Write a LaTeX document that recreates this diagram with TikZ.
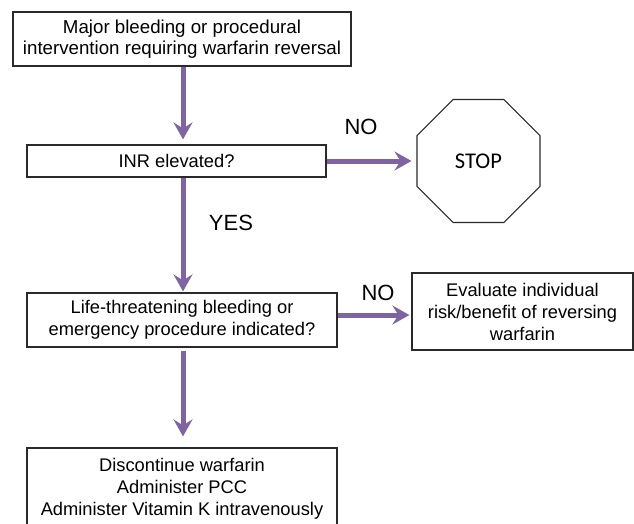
\documentclass[tikz,border=0pt]{standalone}
\usepackage{fontspec}
\setmainfont{Liberation Sans}
\newfontfamily\stopfont{Carlito}
\usetikzlibrary{arrows.meta,shapes.geometric}
\definecolor{arrowpurple}{HTML}{8064A2}
\definecolor{boxline}{HTML}{2A2A2A}
\tikzset{
  flowbox/.style={draw=boxline, line width=1.2pt, rectangle, inner sep=0pt, align=center,
    font=\fontsize{18.3}{22}\selectfont},
  flowarrow/.style={draw=arrowpurple, line width=5pt,
    -{Stealth[length=17pt,width=19pt,inset=6pt]}},
  answer/.style={font=\fontsize{22}{26}\selectfont, inner sep=0pt},
}
\begin{document}
\begin{tikzpicture}[x=1pt,y=-1pt]
\useasboundingbox (0,0) rectangle (634,523);
\coordinate (ax) at (183,0);
\node[flowbox, minimum width=338pt, minimum height=54pt, font=\fontsize{18.7}{21.5}\selectfont] (major) at (182,39)
  {Major bleeding or procedural\\intervention requiring warfarin reversal};
\node[flowbox, minimum width=299pt, minimum height=32pt] (inr) at (176.5,161)
  {INR elevated?};
\node[draw=boxline, line width=1.2pt, regular polygon, regular polygon sides=8,
  minimum size=133pt, inner sep=0pt, font=\stopfont\fontsize{22.5}{26}\selectfont] (stop) at (478.5,161) {STOP};
\node[flowbox, minimum width=310pt, minimum height=54pt] (life) at (182,320)
  {Life-threatening bleeding or\\emergency procedure indicated?};
\node[flowbox, minimum width=221pt, minimum height=77pt] (eval) at (522.5,311.5)
  {Evaluate individual\\risk/benefit of reversing\\warfarin};
\node[flowbox, minimum width=310pt, minimum height=82pt] (act) at (182,489)
  {Discontinue warfarin\\Administer PCC\\Administer Vitamin K intravenously};
\node[answer] (no1) at (361,127) {NO};
\node[answer] (yes) at (231,223) {YES};
\node[answer] (no2) at (378,293) {NO};
\draw[flowarrow, shorten >=5pt] (major.south -| ax) -- (inr.north -| ax);
\draw[flowarrow, shorten >=1pt] (inr.south -| ax) -- (life.north -| ax);
\draw[flowarrow, shorten <=3pt, shorten >=11pt] (life.south -| ax) -- (act.north -| ax);
\draw[flowarrow, shorten >=5pt] (inr.east |- stop.west) -- (stop.west);
\draw[flowarrow, shorten >=2pt] (life.east |- 0,315) -- (eval.west |- 0,315);
\end{tikzpicture}
\end{document}
